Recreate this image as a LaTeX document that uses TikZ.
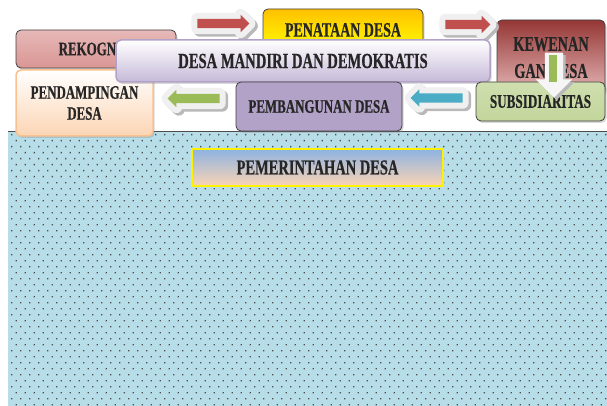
\documentclass[tikz,border=0pt]{standalone}
\usepackage{fontspec}
\setmainfont{Liberation Serif}
\newfontfamily\boxfont[FakeStretch=0.68,FakeBold=0.6]{Liberation Serif}
\usetikzlibrary{shapes.arrows,shadows}
\definecolor{rekogtop}{HTML}{E6B9B8}
\definecolor{rekogbot}{HTML}{D99694}
\definecolor{tatatop}{HTML}{FFC000}
\definecolor{tatabot}{HTML}{FFFF00}
\definecolor{wenangtop}{HTML}{953735}
\definecolor{wenangbot}{HTML}{E6B9B8}
\definecolor{lavtop}{HTML}{FFFFFF}
\definecolor{lavbot}{HTML}{C6B9D8}
\definecolor{lavline}{HTML}{B3A2C7}
\definecolor{peachbot}{HTML}{FCD5B4}
\definecolor{peachline}{HTML}{FAC090}
\definecolor{bangun}{HTML}{B3A2C7}
\definecolor{subsid}{HTML}{C3D69B}
\definecolor{pemtop}{HTML}{8DB3E2}
\definecolor{pembot}{HTML}{FBD4B4}
\definecolor{areablue}{HTML}{B7DEE8}
\definecolor{arrred}{HTML}{C0504D}
\definecolor{arrgreen}{HTML}{9BBB59}
\definecolor{arrblue}{HTML}{4BACC6}

\begin{document}
\begin{tikzpicture}[x=1pt,y=-1pt]
  \tikzset{main node/.style={rectangle, draw=black!75, line width=0.8pt,
		align=center, rounded corners=5pt, inner sep=0pt, text=black!85,
		font=\boxfont\bfseries\fontsize{19}{23}\selectfont,
		drop shadow={shadow xshift=1.5pt, shadow yshift=-2pt, opacity=0.3}}, }
\tikzset{base node/.style={rectangle, draw=yellow, line width=1.5pt,
		align=center, inner sep=0pt, text=black!85,
		font=\boxfont\bfseries\fontsize{21.3}{25}\selectfont}, }
\tikzset{arrow node/.style={single arrow, inner sep=4.5pt, minimum width=17pt,
		single arrow head extend=4pt, line join=round,
		preaction={draw=gray!55, line width=12pt,
			transform canvas={shift={(2.5pt,-2.5pt)}}},
		preaction={draw=gray!12, line width=12pt}}, }
\tikzset{hollow node/.style={single arrow, inner sep=9pt, minimum width=36pt,
		single arrow head extend=9pt, fill=gray!8,
		preaction={fill=gray!55, transform canvas={shift={(2.5pt,-2.5pt)}}}}, }
\useasboundingbox (0,0) rectangle (607,406);
% dotted area
\fill[areablue] (8,131) rectangle (607,406);
\begin{scope}
  \clip (8,131) rectangle (607,406);
  \fill[black!70] \foreach \j in {0,...,45} {
      \foreach \i in {0,...,66} {
        ({11+9*\i+4.5*mod(\j,2)},{134+6*\j}) rectangle ++(1.3,1.3) } };
\end{scope}
\draw[black!70, line width=0.6pt] (8,131) -- (607,131);
%
\node[main node, minimum width=160pt, minimum height=38pt,
  top color=rekogtop, bottom color=rekogbot] (1) at (96,49) {REKOGNISI};
\node[main node, minimum width=160pt, minimum height=42pt,
  font=\boxfont\bfseries\fontsize{20.5}{24}\selectfont,
  top color=tatatop, bottom color=tatabot] (2) at (343,30) {PENATAAN DESA};
\node[main node, minimum width=108pt, minimum height=75pt,
  font=\boxfont\bfseries\fontsize{21}{27}\selectfont,
  top color=wenangtop, bottom color=wenangbot] (3) at (551,57.5) {KEWENAN\\GAN DESA};
\node[main node, minimum width=137pt, minimum height=66pt, draw=peachline,
  line width=1.5pt, top color=white, bottom color=peachbot,
  font=\boxfont\bfseries\fontsize{19}{21}\selectfont] (4) at (84.5,103)
  {PENDAMPINGAN\\DESA};
\node[arrow node, fill=arrred, minimum height=52pt] (5) at (221,23.5) {};
\node[arrow node, fill=arrred, minimum height=45pt] (6) at (465.5,24.5) {};
%
\node[main node, minimum width=374pt, minimum height=42pt, draw=lavline,
  line width=1.5pt, top color=lavtop, bottom color=lavbot,
  font=\boxfont\bfseries\fontsize{21.5}{25}\selectfont] (7) at (303,61)
  {DESA MANDIRI DAN DEMOKRATIS};
\node[main node, minimum width=166pt, minimum height=49pt, fill=bangun] (8)
  at (319,106.5) {PEMBANGUNAN DESA};
\node[main node, minimum width=129pt, minimum height=39pt,
  font=\boxfont\bfseries\fontsize{19.3}{23}\selectfont,
  top color=subsid!80!white, bottom color=subsid] (9) at (540.5,101.5) {SUBSIDIARITAS};
%
\node[arrow node, fill=arrgreen, minimum height=52pt, shape border rotate=180] (10)
  at (196,98.5) {};
\node[arrow node, fill=arrblue, minimum height=52pt, shape border rotate=180] (11)
  at (439,98) {};
\node[hollow node, minimum height=45pt, shape border rotate=270] (12)
  at (554,70.5) {};
\node[fill=arrgreen, inner sep=0pt, minimum width=8pt, minimum height=27pt]
  (12s) at (553,68.5) {};
%
\node[base node, minimum width=251pt, minimum height=37pt,
  top color=pemtop, bottom color=pembot] (13) at (317.5,167.5) {PEMERINTAHAN DESA};
%
\end{tikzpicture}
\end{document}
